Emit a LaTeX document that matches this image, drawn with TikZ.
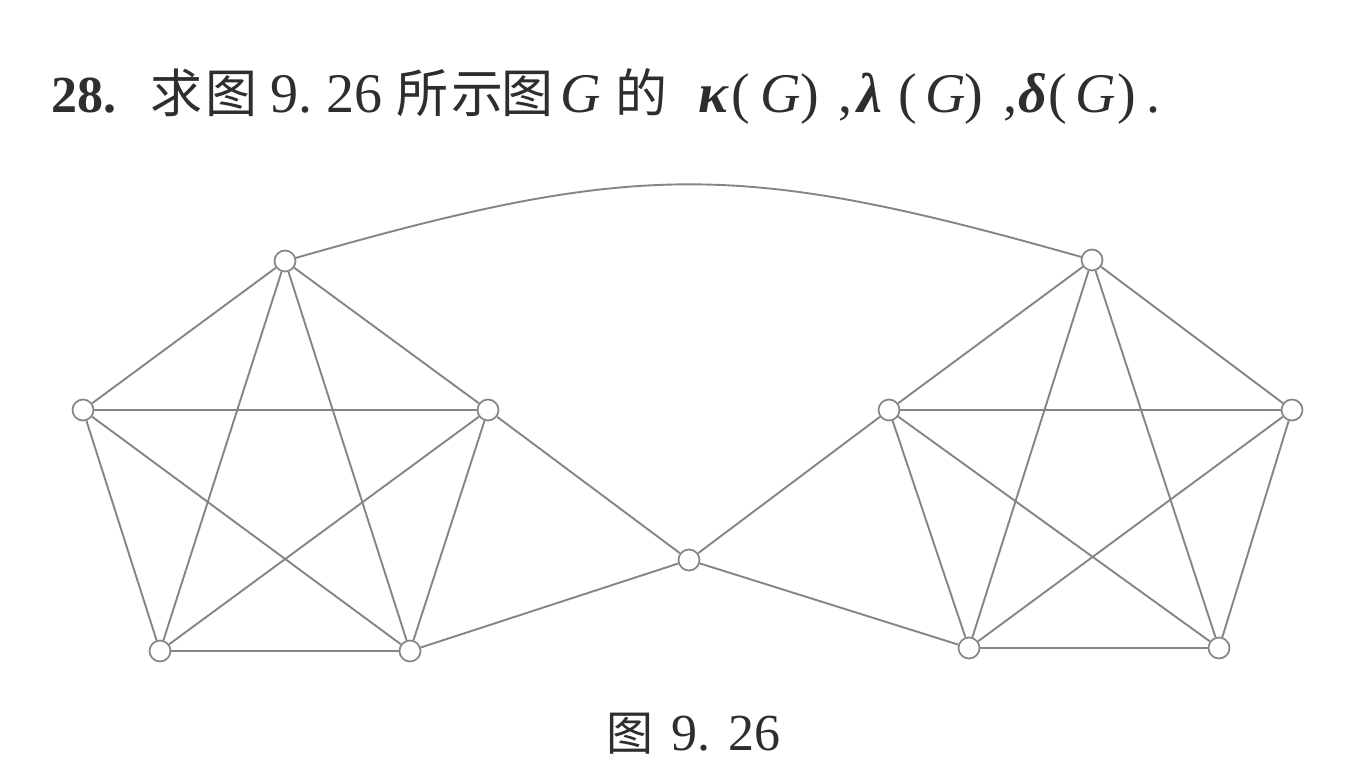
\documentclass[tikz,border=0pt]{standalone}
\usepackage{fontspec}
\setmainfont{Liberation Serif}
\newfontfamily\cjk{Noto Sans CJK SC}
\definecolor{ink}{HTML}{2E2E2E}
\definecolor{edgegray}{HTML}{858585}
\begin{document}
\begin{tikzpicture}[x=1pt,y=-1pt,
  vert/.style={circle,draw=edgegray,line width=1.7pt,fill=white,minimum size=21pt,inner sep=0pt},
  edge/.style={draw=edgegray,line width=1.9pt},
  ttl/.style={anchor=base west,inner sep=0pt,text=ink,font=\fontsize{56}{60}\selectfont},
  captext/.style={anchor=base west,inner sep=0pt,text=ink,font=\fontsize{52}{56}\selectfont}]
\useasboundingbox[fill=white] (0,0) rectangle (1349,767);
% title
\foreach \x/\t [count=\i] in {51/{\bfseries\fontsize{52}{56}\selectfont 28.},150/{\cjk\fontsize{52}{56}\selectfont 求},205/{\cjk\fontsize{52}{56}\selectfont 图},270/{9.},326/{26},
  396/{\cjk\fontsize{52}{56}\selectfont 所},451/{\cjk\fontsize{52}{56}\selectfont 示},501/{\cjk\fontsize{52}{56}\selectfont 图},
  560/{\itshape G},615/{\cjk\fontsize{52}{56}\selectfont 的},
  698/{\bfseries\itshape κ},731/{(},760/{\itshape G},800/{)},838/{,},
  857/{\bfseries\itshape λ},898/{(},925/{\itshape G},964/{)},1003/{,},
  1018/{\bfseries\itshape δ},1048/{(},1075/{\itshape G},1117/{)},1146/{.}}
  \node[ttl] (t\i) at (\x,113) {\t};
% caption
\node[captext,font=\cjk\fontsize{47}{50}\selectfont] (c1) at (606,750) {图};
\node[captext] (c2) at (671,750) {9.};
\node[captext] (c3) at (728,750) {26};
% left K5
\node[vert] (La) at (285,261) {};
\node[vert] (Lb) at (83,410) {};
\node[vert] (Lc) at (488,410) {};
\node[vert] (Ld) at (160,651) {};
\node[vert] (Le) at (410,651) {};
% right K5
\node[vert] (Ra) at (1092,260) {};
\node[vert] (Rb) at (889,410) {};
\node[vert] (Rc) at (1292,410) {};
\node[vert] (Rd) at (969,648) {};
\node[vert] (Re) at (1219,648) {};
% centre
\node[vert] (C) at (689,560) {};
\foreach \s in {L,R}{
  \foreach \u/\v in {a/b,a/c,a/d,a/e,b/c,b/d,b/e,c/d,c/e,d/e}
    \path[edge] (\s\u) -- (\s\v);
}
\path[edge] (C) -- (Lc);
\path[edge] (C) -- (Le);
\path[edge] (C) -- (Rb);
\path[edge] (C) -- (Rd);
\path[edge] (La) .. controls (638,160) and (739,160) .. (Ra);
\end{tikzpicture}
\end{document}
